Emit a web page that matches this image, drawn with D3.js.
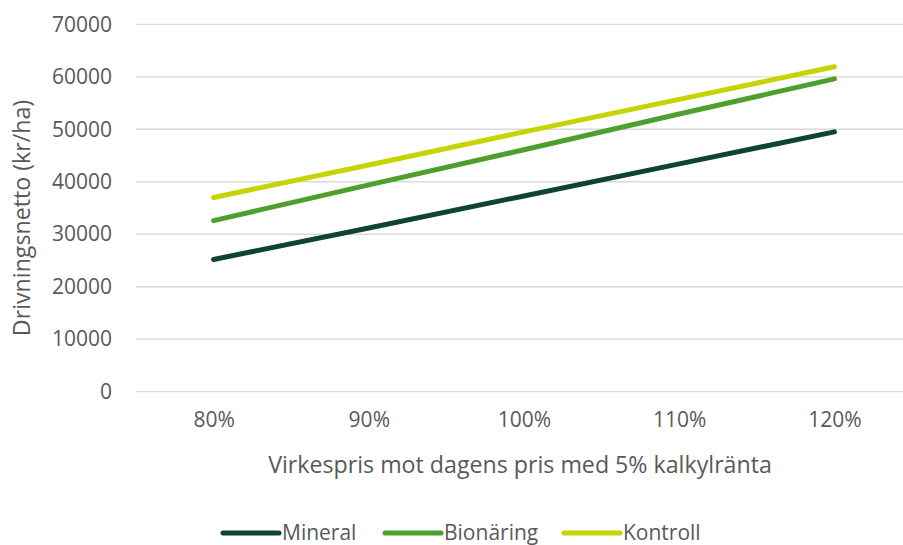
<!DOCTYPE html>
<html>
<head>
<meta charset="utf-8">
<script src="https://cdn.jsdelivr.net/npm/d3@7"></script>
<style>
  html, body { margin: 0; padding: 0; background: #fff; }
  svg { display: block; }
  text { font-family: "Open Sans", sans-serif; fill: #595959; }
</style>
</head>
<body>
<svg id="chart" width="903" height="545"></svg>
<script>
// Price level relative to today's timber price
const categories = ["80%", "90%", "100%", "110%", "120%"];
// Net harvesting revenue (kr/ha) per treatment
const mineral   = [25200, 31200, 37300, 43400, 49500];
const bionaring = [32600, 39400, 46100, 52900, 59600];
const kontroll  = [37000, 43200, 49500, 55700, 61900];
const yTicks = [0, 10000, 20000, 30000, 40000, 50000, 60000, 70000];

const series = [
  { name: "Mineral",   values: mineral,   color: "#0f4530" },
  { name: "Bionäring", values: bionaring, color: "#4f9f2f" },
  { name: "Kontroll",  values: kontroll,  color: "#c8d400" }
];

const svg = d3.select("#chart");
const margin = { left: 136, right: -9, top: 24.3, bottom: 153.3 };
const W = 903, H = 545;

const x = d3.scalePoint()
  .domain(categories)
  .range([margin.left, W - margin.right])
  .padding(0.5);

const y = d3.scaleLinear()
  .domain([0, 70000])
  .range([H - margin.bottom, margin.top]);

// Horizontal gridlines
svg.append("g")
  .selectAll("line")
  .data(yTicks)
  .join("line")
  .attr("x1", margin.left)
  .attr("x2", W - margin.right)
  .attr("y1", d => y(d))
  .attr("y2", d => y(d))
  .attr("stroke", "#d9d9d9")
  .attr("stroke-width", 1.3);

// Y axis labels
const yAxis = svg.append("g")
  .attr("transform", `translate(${margin.left - 24},0)`)
  .call(d3.axisLeft(y).tickValues(yTicks).tickSize(0).tickPadding(0).tickFormat(d3.format("d")));
yAxis.select(".domain").remove();
yAxis.selectAll("text")
  .style("font-family", "'Open Sans', sans-serif")
  .style("font-size", "21px")
  .attr("fill", "#595959");

// X axis labels
const xAxis = svg.append("g")
  .attr("transform", `translate(0,${H - margin.bottom + 20})`)
  .call(d3.axisBottom(x).tickSize(0).tickPadding(0));
xAxis.select(".domain").remove();
xAxis.selectAll("text")
  .style("font-family", "'Open Sans', sans-serif")
  .style("font-size", "21px")
  .attr("fill", "#595959");

// Axis titles
svg.append("text")
  .attr("x", 520)
  .attr("y", 473)
  .attr("text-anchor", "middle")
  .style("font-size", "23.2px")
  .text("Virkespris mot dagens pris med 5% kalkylränta");

svg.append("text")
  .attr("transform", `translate(30,${(y(0) + y(70000)) / 2 + 10}) rotate(-90)`)
  .attr("text-anchor", "middle")
  .style("font-size", "23.2px")
  .text("Drivningsnetto (kr/ha)");

// Series lines
const line = d3.line()
  .x((d, i) => x(categories[i]))
  .y(d => y(d));

svg.append("g")
  .selectAll("path")
  .data(series)
  .join("path")
  .attr("d", d => line(d.values))
  .attr("fill", "none")
  .attr("stroke", d => d.color)
  .attr("stroke-width", 5)
  .attr("stroke-linecap", "round")
  .attr("stroke-linejoin", "round");

// Legend
const legendX = [223, 385, 564];
const legend = svg.append("g")
  .selectAll("g")
  .data(series)
  .join("g")
  .attr("transform", (d, i) => `translate(${legendX[i]},533)`);
legend.append("line")
  .attr("x1", 0).attr("x2", 56)
  .attr("y1", 0).attr("y2", 0)
  .attr("stroke", d => d.color)
  .attr("stroke-width", 5)
  .attr("stroke-linecap", "round");
legend.append("text")
  .attr("x", 59)
  .attr("y", 0)
  .attr("dy", "0.35em")
  .style("font-size", "21px")
  .text(d => d.name);
</script>
</body>
</html>
